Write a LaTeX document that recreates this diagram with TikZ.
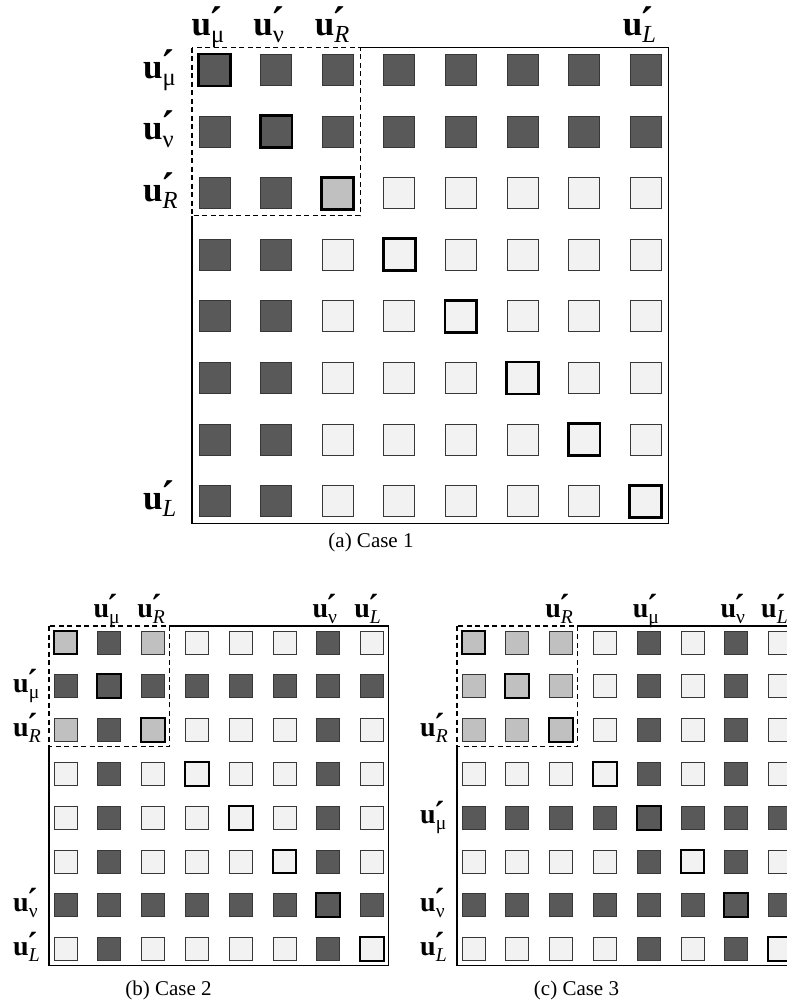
\documentclass[tikz,border=0pt]{standalone}
\usepackage{fontspec}
\setmainfont{Liberation Serif}
\usetikzlibrary{positioning,calc}
\definecolor{cellD}{RGB}{89,89,89}
\definecolor{cellL}{RGB}{242,242,242}
\definecolor{cellM}{RGB}{192,192,192}
\definecolor{celledge}{RGB}{55,55,55}

\newcommand{\ulab}[1]{\textbf{u}\rlap{\kern-0.04em\raisebox{-0.12em}{\scalebox{1.1}[1.35]{\textbf{´}}}}\raisebox{-0.22em}{\scalebox{0.7}{#1}}}

\begin{document}
\begin{tikzpicture}[
    x=1pt, y=-1pt,
    bigcell/.style={rectangle, draw=celledge, line width=0.9pt, minimum size=31pt, inner sep=0pt},
    smallcell/.style={rectangle, draw=celledge, line width=0.8pt, minimum size=23pt, inner sep=0pt},
    bigdiag/.style={draw=black, line width=2.8pt},
    smalldiag/.style={draw=black, line width=2.1pt},
    frame/.style={line width=1.4pt},
    block/.style={line width=1.3pt, dash pattern=on 5pt off 3.5pt},
    biglab/.style={font=\fontsize{35}{40}\selectfont, inner sep=0pt, anchor=base west},
    smalllab/.style={font=\fontsize{28}{32}\selectfont, inner sep=0pt, anchor=base west},
    caption/.style={font=\fontsize{21}{24}\selectfont, inner sep=0pt, anchor=base}
]
\useasboundingbox (0,0) rectangle (787,1005);
\clip (0,0) rectangle (787,1005);

% (a) Case 1
\foreach \r [count=\i] in {{D,D,D,D,D,D,D,D},{D,D,D,D,D,D,D,D},{D,D,M,L,L,L,L,L},{D,D,L,L,L,L,L,L},
                          {D,D,L,L,L,L,L,L},{D,D,L,L,L,L,L,L},{D,D,L,L,L,L,L,L},{D,D,L,L,L,L,L,L}}
  \foreach \c [count=\j] in \r
    \node[bigcell, fill=cell\c] (a-\i-\j) at ({214.5+61.6*(\j-1)},{70+61.6*(\i-1)}) {};
\foreach \k in {1,...,8}
  \draw[bigdiag] (a-\k-\k.south west) rectangle (a-\k-\k.north east);

\coordinate (a-nw) at (192,47.5);
\coordinate (a-se) at (668.2,523.7);
\coordinate (a-blk) at (360.2,215.7);
\draw[frame] (a-blk |- a-nw) -- (a-se |- a-nw) -- (a-se) -- (a-nw |- a-se) -- (a-nw |- a-blk);
\draw[block] (a-nw) rectangle (a-blk);

\node[biglab] (a-top-mu) at (191.5,35) {\ulab{μ}};
\node[biglab] (a-top-nu) at (253.1,35) {\ulab{ν}};
\node[biglab] (a-top-R) at (314.7,35) {\ulab{\textit{R}}};
\node[biglab] (a-top-L) at (622.7,35) {\ulab{\textit{L}}};
\node[biglab] (a-left-mu) at (143,78) {\ulab{μ}};
\node[biglab] (a-left-nu) at (143,139.6) {\ulab{ν}};
\node[biglab] (a-left-R) at (143,201.2) {\ulab{\textit{R}}};
\node[biglab] (a-left-L) at (143,509.2) {\ulab{\textit{L}}};
\node[caption] (a-cap) at (371,547) {(a) Case 1};

% (b) Case 2
\foreach \r [count=\i] in {{M,D,M,L,L,L,D,L},{D,D,D,D,D,D,D,D},{M,D,M,L,L,L,D,L},{L,D,L,L,L,L,D,L},
                          {L,D,L,L,L,L,D,L},{L,D,L,L,L,L,D,L},{D,D,D,D,D,D,D,D},{L,D,L,L,L,L,D,L}}
  \foreach \c [count=\j] in \r
    \node[smallcell, fill=cell\c] (b-\i-\j) at ({65.5+43.8*(\j-1)},{642.5+43.8*(\i-1)}) {};
\foreach \k in {1,...,8}
  \draw[smalldiag] (b-\k-\k.south west) rectangle (b-\k-\k.north east);

\coordinate (b-nw) at (49,626);
\coordinate (b-se) at (388.6,965.6);
\coordinate (b-blk) at (169.6,746.6);
\draw[frame] (b-blk |- b-nw) -- (b-se |- b-nw) -- (b-se) -- (b-nw |- b-se) -- (b-nw |- b-blk);
\draw[block] (b-nw) rectangle (b-blk);

\node[smalllab] (b-top-mu) at (93.3,617) {\ulab{μ}};
\node[smalllab] (b-top-R) at (137.1,617) {\ulab{\textit{R}}};
\node[smalllab] (b-top-nu) at (312.3,617) {\ulab{ν}};
\node[smalllab] (b-top-L) at (354.1,617) {\ulab{\textit{L}}};
\node[smalllab] (b-left-mu) at (13,692.3) {\ulab{μ}};
\node[smalllab] (b-left-R) at (13,736.1) {\ulab{\textit{R}}};
\node[smalllab] (b-left-nu) at (13,911.3) {\ulab{ν}};
\node[smalllab] (b-left-L) at (13,955.1) {\ulab{\textit{L}}};
\node[caption] (b-cap) at (168.5,995) {(b) Case 2};

% (c) Case 3
\foreach \r [count=\i] in {{M,M,M,L,D,L,D,L},{M,M,M,L,D,L,D,L},{M,M,M,L,D,L,D,L},{L,L,L,L,D,L,D,L},
                          {D,D,D,D,D,D,D,D},{L,L,L,L,D,L,D,L},{D,D,D,D,D,D,D,D},{L,L,L,L,D,L,D,L}}
  \foreach \c [count=\j] in \r
    \node[smallcell, fill=cell\c] (c-\i-\j) at ({473.5+43.8*(\j-1)},{642.5+43.8*(\i-1)}) {};
\foreach \k in {1,...,8}
  \draw[smalldiag] (c-\k-\k.south west) rectangle (c-\k-\k.north east);

\coordinate (c-nw) at (457,626);
\coordinate (c-se) at (796.6,965.6);
\coordinate (c-blk) at (577.6,746.6);
\draw[frame] (c-blk |- c-nw) -- (c-se |- c-nw) -- (c-se) -- (c-nw |- c-se) -- (c-nw |- c-blk);
\draw[block] (c-nw) rectangle (c-blk);

\node[smalllab] (c-top-R) at (545.1,617) {\ulab{\textit{R}}};
\node[smalllab] (c-top-mu) at (632.7,617) {\ulab{μ}};
\node[smalllab] (c-top-nu) at (720.3,617) {\ulab{ν}};
\node[smalllab] (c-top-L) at (761,617) {\ulab{\textit{L}}};
\node[smalllab] (c-left-R) at (420,736.1) {\ulab{\textit{R}}};
\node[smalllab] (c-left-mu) at (420,823.7) {\ulab{μ}};
\node[smalllab] (c-left-nu) at (420,911.3) {\ulab{ν}};
\node[smalllab] (c-left-L) at (420,955.1) {\ulab{\textit{L}}};
\node[caption] (c-cap) at (576.5,995) {(c) Case 3};

\end{tikzpicture}
\end{document}
